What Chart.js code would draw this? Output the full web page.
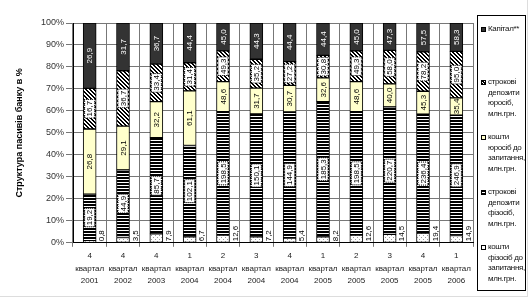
<!DOCTYPE html>
<html>
<head>
<meta charset="utf-8">
<script src="https://cdn.jsdelivr.net/npm/chart.js@4.4.0/dist/chart.umd.min.js"></script>
<style>
html, body { margin: 0; padding: 0; background: #fff; }
#wrap { position: relative; width: 528px; height: 297px; overflow: hidden; }
#wrap canvas { position: absolute; left: 0; top: 0; }
#legend { position: absolute; left: 477px; top: 15px; width: 47px; height: 274px; border: 1px solid #000; background: #fff;
  font: 8px "Liberation Sans", Arial, sans-serif; color: #111; letter-spacing: -0.35px; }
.item { position: absolute; left: 3px; width: 44px; line-height: 10.5px; padding-left: 7px; box-sizing: border-box; white-space: nowrap; }
.sw { position: absolute; left: 0; top: 3px; width: 5px; height: 5px; border: 1px solid #000; box-sizing: border-box; }
.edge-r { position: absolute; left: 527px; top: 0; width: 1px; height: 297px; background: #ddd; }
.edge-b { position: absolute; left: 0; top: 296px; width: 528px; height: 1px; background: #ddd; }
</style>
</head>
<body>
<div id="wrap">
  <canvas id="structChart" width="528" height="297"></canvas>
  <div id="legend">
    <div class="item" style="top:8px"><span class="sw" style="background:#333"></span>Капітал**</div>
    <div class="item" style="top:61px"><span class="sw" style="background:repeating-linear-gradient(45deg,#000 0 1px,#fff 1px 2px)"></span>строкові<br>депозити<br>юросіб,<br>млн.грн.</div>
    <div class="item" style="top:116px"><span class="sw" style="background:#ffffcc"></span>кошти<br>юросіб до<br>запитання,<br>млн.грн.</div>
    <div class="item" style="top:171px"><span class="sw" style="background:repeating-linear-gradient(#000 0 1px,#fff 1px 2px)"></span>строкові<br>депозити<br>фізосіб,<br>млн.грн.</div>
    <div class="item" style="top:226px"><span class="sw" style="background:#fff;border-width:1.5px"></span>кошти<br>фізосіб до<br>запитання,<br>млн.грн.</div>
  </div>
  <div class="edge-r"></div>
  <div class="edge-b"></div>
</div>
<script>
// Quarters
var categories = [
    ['4', 'квартал', '2001'], ['4', 'квартал', '2002'], ['4', 'квартал', '2003'],
    ['1', 'квартал', '2004'], ['2', 'квартал', '2004'], ['3', 'квартал', '2004'],
    ['4', 'квартал', '2004'], ['1', 'квартал', '2005'], ['2', 'квартал', '2005'],
    ['3', 'квартал', '2005'], ['4', 'квартал', '2005'], ['1', 'квартал', '2006']
];
// Values, млн.грн.
var fizDemand = [0.8, 3.5, 7.9, 6.7, 12.6, 7.2, 5.4, 8.2, 12.6, 14.5, 19.4, 14.9];
var fizTerm   = [19.2, 44.9, 85.7, 102.1, 198.5, 150.1, 144.9, 185.3, 198.5, 220.7, 236.4, 246.9];
var jurDemand = [26.8, 29.1, 32.2, 61.1, 48.6, 31.7, 30.7, 32.6, 48.6, 40.0, 45.3, 35.4];
var jurTerm   = [16.7, 36.7, 33.4, 31.4, 49.3, 35.2, 27.2, 30.8, 49.3, 58.0, 78.2, 95.0];
var capital   = [26.9, 31.7, 36.7, 44.4, 45.0, 44.3, 44.4, 44.4, 45.0, 47.3, 57.5, 58.3];
var yTicks = [0, 10, 20, 30, 40, 50, 60, 70, 80, 90, 100];

var FONT = '"Liberation Sans", Arial, sans-serif';
var ctx = document.getElementById('structChart').getContext('2d');

// fill patterns
function tile(w, h, draw) {
    var c = document.createElement('canvas');
    c.width = w; c.height = h;
    var g = c.getContext('2d');
    g.fillStyle = '#fff'; g.fillRect(0, 0, w, h);
    draw(g);
    return ctx.createPattern(c, 'repeat');
}
var dots = tile(4, 4, function (g) {
    g.fillStyle = '#9a9a9a';
    g.fillRect(1, 1, 1, 1); g.fillRect(3, 3, 1, 1);
});
var stripes = tile(1, 3, function (g) {
    g.fillStyle = '#000'; g.fillRect(0, 0, 1, 2);
});
var hatch = tile(4, 4, function (g) {
    g.fillStyle = '#000';
    for (var i = 0; i < 4; i++) { g.fillRect(i, i, 1, 1); g.fillRect((i + 1) % 4, i, 1, 1); }
});

var totals = fizDemand.map(function (v, i) {
    return v + fizTerm[i] + jurDemand[i] + jurTerm[i] + capital[i];
});
function pct(arr) { return arr.map(function (v, i) { return v / totals[i] * 100; }); }

// label styles per dataset: [text colour, boxed]
var labelStyle = [null, ['#000', true], ['#000', false], ['#000', true], ['#fff', false]];

var valueLabels = {
    id: 'valueLabels',
    afterDatasetsDraw: function (chart) {
        var c = chart.ctx;
        c.save();
        c.font = '8px ' + FONT;
        chart.data.datasets.forEach(function (ds, di) {
            var meta = chart.getDatasetMeta(di);
            meta.data.forEach(function (bar, i) {
                var txt = ds.raw[i].toFixed(1).replace('.', ',');
                var w = c.measureText(txt).width;
                c.save();
                if (di === 0) {
                    c.translate(bar.x + bar.width / 2 + 6, bar.base - 1);
                    c.rotate(-Math.PI / 2);
                    c.fillStyle = '#000';
                    c.textAlign = 'left';
                    c.textBaseline = 'middle';
                    c.fillText(txt, 0, 0);
                } else {
                    var st = labelStyle[di];
                    c.translate(bar.x, (bar.y + bar.base) / 2);
                    c.rotate(-Math.PI / 2);
                    if (st[1]) {
                        c.fillStyle = '#fff';
                        c.fillRect(-w / 2 - 1.5, -5, w + 3, 10);
                        c.strokeStyle = '#000';
                        c.lineWidth = 1;
                        c.setLineDash([1, 1]);
                        c.strokeRect(-w / 2 - 1.5, -5, w + 3, 10);
                    }
                    c.fillStyle = st[0];
                    c.textAlign = 'center';
                    c.textBaseline = 'middle';
                    c.fillText(txt, 0, 0.5);
                }
                c.restore();
            });
        });
        c.restore();
    }
};

var structChart = new Chart(ctx, {
    type: 'bar',
    data: {
        labels: categories,
        datasets: [
            { label: 'кошти фізосіб до запитання, млн.грн.', raw: fizDemand, data: pct(fizDemand), backgroundColor: dots },
            { label: 'строкові депозити фізосіб, млн.грн.', raw: fizTerm, data: pct(fizTerm), backgroundColor: stripes },
            { label: 'кошти юросіб до запитання, млн.грн.', raw: jurDemand, data: pct(jurDemand), backgroundColor: '#ffffcc' },
            { label: 'строкові депозити юросіб, млн.грн.', raw: jurTerm, data: pct(jurTerm), backgroundColor: hatch },
            { label: 'Капітал**', raw: capital, data: pct(capital), backgroundColor: '#333333' }
        ].map(function (d) {
            d.borderColor = '#000';
            d.borderWidth = 1;
            d.borderSkipped = false;
            d.barThickness = 13;
            return d;
        })
    },
    options: {
        responsive: false,
        animation: false,
        devicePixelRatio: 1,
        layout: { padding: { top: 23, right: 55, bottom: 7, left: 0 } },
        plugins: { legend: { display: false }, tooltip: { enabled: false } },
        scales: {
            x: {
                stacked: true,
                grid: { color: '#777', tickLength: 4, offset: true },
                border: { color: '#000' },
                ticks: { color: '#222', maxRotation: 0, autoSkip: false, padding: 3,
                         font: { family: FONT, size: 8, lineHeight: 1.55 } }
            },
            y: {
                stacked: true,
                min: 0,
                max: 100,
                afterBuildTicks: function (axis) {
                    axis.ticks = yTicks.map(function (v) { return { value: v }; });
                },
                afterFit: function (axis) { axis.width = 73; },
                grid: { color: '#777', tickLength: 7 },
                border: { color: '#000' },
                ticks: { color: '#333', padding: 2, font: { family: FONT, size: 9 },
                         callback: function (v) { return v + '%'; } },
                title: { display: true, text: 'Структура пасивів банку в %', color: '#000',
                         padding: { top: 14, bottom: 0 },
                         font: { family: FONT, size: 9, weight: 'bold' } }
            }
        }
    },
    plugins: [valueLabels]
});
</script>
</body>
</html>
